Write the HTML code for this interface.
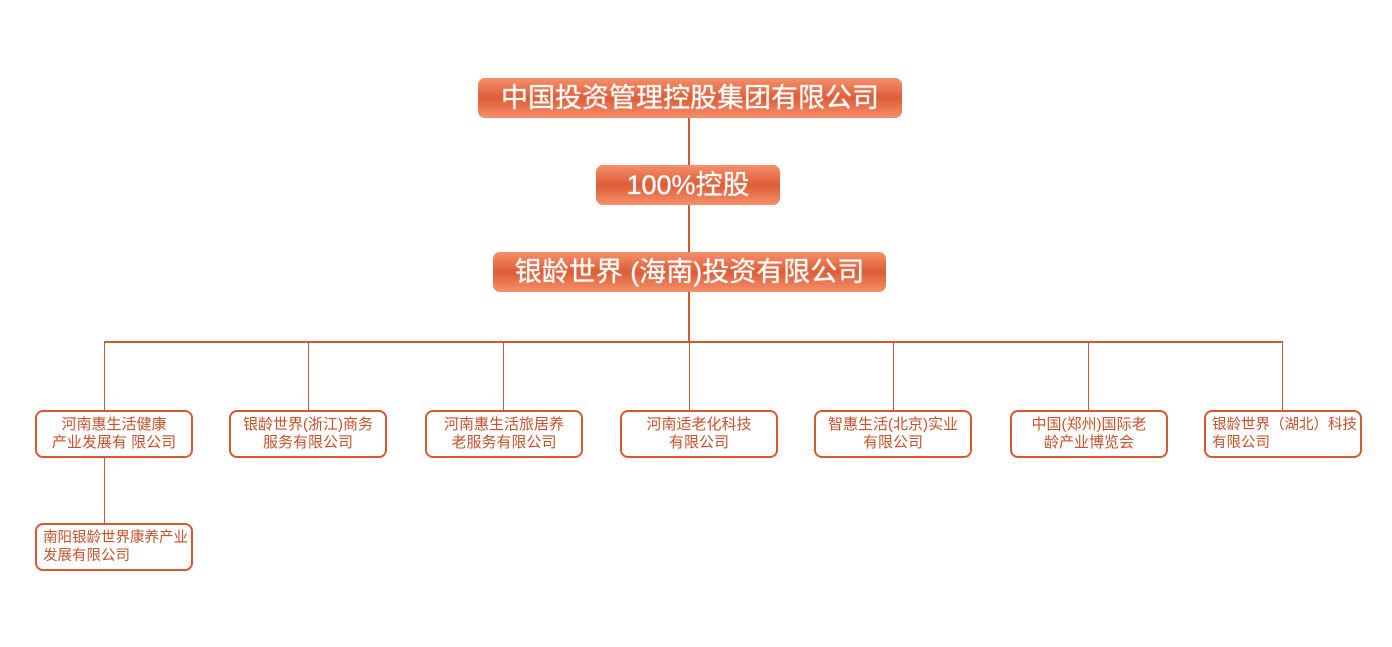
<!DOCTYPE html>
<html><head><meta charset="utf-8"><style>
body{margin:0;width:1392px;height:647px;background:#fff;position:relative;overflow:hidden;font-family:"Liberation Sans","Noto Sans CJK SC",sans-serif}
.g{position:absolute;border-radius:7px;color:#fff;font-size:27px;text-align:center;line-height:40px;height:40px;background:linear-gradient(#f5906b,#dd5d37 50%,#f5906b);white-space:nowrap;text-shadow:0 0 1px #fff}
.l{position:absolute;background:#d5572f}
.c{position:absolute;width:154px;height:44px;border:2px solid #d9582f;border-radius:8px;color:#c9512c;font-size:15px;line-height:18px;display:flex;flex-direction:column;justify-content:center;align-items:center;text-align:center;white-space:nowrap}
.c.left{align-items:flex-start;text-align:left;padding-left:6px;width:148px}
</style></head><body>
<div class="g" style="left:478px;top:78px;width:424px">中国投资管理控股集团有限公司</div>
<div class="g" style="left:596px;top:165px;width:184px">100%控股</div>
<div class="g" style="left:493px;top:252px;width:393px">银龄世界 (海南)投资有限公司</div>
<div class="l" style="left:688px;top:118px;width:2px;height:47px"></div>
<div class="l" style="left:688px;top:205px;width:2px;height:47px"></div>
<div class="l" style="left:688px;top:292px;width:2px;height:50px"></div>
<div class="l" style="left:104px;top:341px;width:1179px;height:2px"></div>
<div class="l" style="left:104px;top:342px;width:1px;height:68px"></div>
<div class="l" style="left:308px;top:342px;width:1px;height:68px"></div>
<div class="l" style="left:503px;top:342px;width:1px;height:68px"></div>
<div class="l" style="left:689px;top:342px;width:1px;height:68px"></div>
<div class="l" style="left:893px;top:342px;width:1px;height:68px"></div>
<div class="l" style="left:1088px;top:342px;width:1px;height:68px"></div>
<div class="l" style="left:1282px;top:342px;width:1px;height:68px"></div>
<div class="l" style="left:104px;top:458px;width:1px;height:65px"></div>
<div class="c" style="left:35px;top:410px">河南惠生活健康<br>产业发展有 限公司</div>
<div class="c" style="left:229px;top:410px">银龄世界(浙江)商务<br>服务有限公司</div>
<div class="c" style="left:425px;top:410px">河南惠生活旅居养<br>老服务有限公司</div>
<div class="c" style="left:620px;top:410px">河南适老化科技<br>有限公司</div>
<div class="c" style="left:814px;top:410px">智惠生活(北京)实业<br>有限公司</div>
<div class="c" style="left:1010px;top:410px">中国(郑州)国际老<br>龄产业博览会</div>
<div class="c left" style="left:1204px;top:410px;font-size:14.5px">银龄世界（湖北）科技<br>有限公司</div>
<div class="c left" style="left:35px;top:523px;font-size:14.5px">南阳银龄世界康养产业<br>发展有限公司</div>
</body></html>
